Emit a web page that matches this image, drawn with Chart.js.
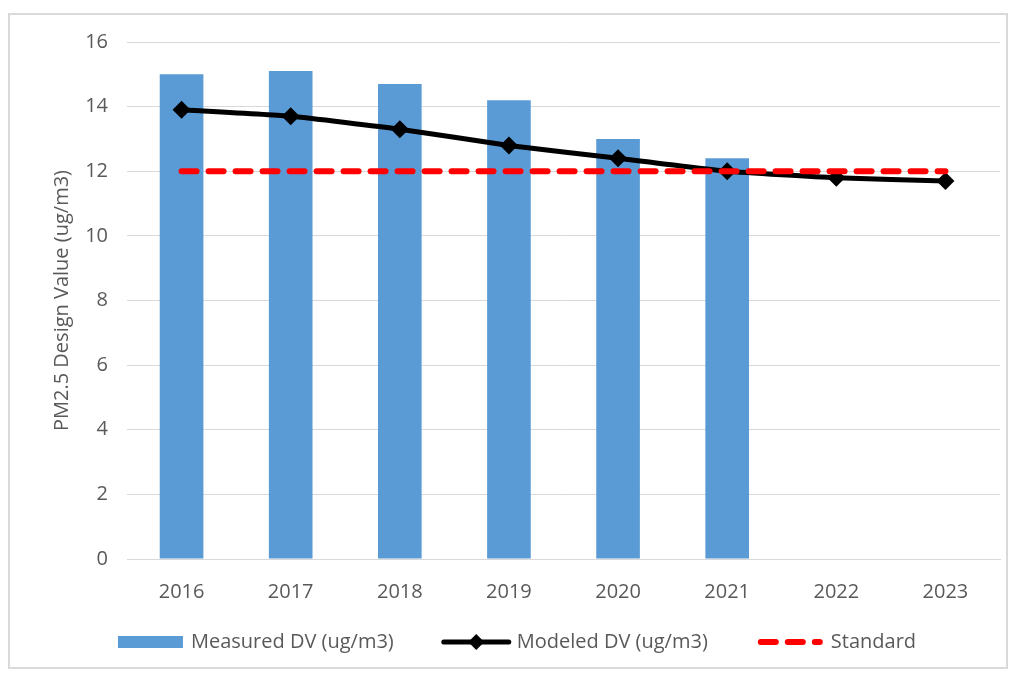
<!DOCTYPE html>
<html>
<head>
<meta charset="utf-8">
<script src="https://cdn.jsdelivr.net/npm/chart.js@4"></script>
<style>
  html, body { margin: 0; padding: 0; background: #fff; }
  #wrap { width: 1018px; height: 675px; position: relative; }
</style>
</head>
<body>
<div id="wrap"><canvas id="c" width="1018" height="675"></canvas></div>
<script>
// ---- data
const YEARS    = ["2016", "2017", "2018", "2019", "2020", "2021", "2022", "2023"];
const MEASURED = [15.0, 15.1, 14.7, 14.2, 13.0, 12.4, null, null];
const MODELED  = [13.9, 13.7, 13.3, 12.8, 12.4, 12.0, 11.8, 11.7];
const STANDARD = [12, 12, 12, 12, 12, 12, 12, 12];
const Y_TICKS  = [0, 2, 4, 6, 8, 10, 12, 14, 16];
const Y_TITLE  = "PM2.5 Design Value (ug/m3)";

const FONT = "'Open Sans', 'Noto Sans', sans-serif";
const FS = 20;
const GREY = "#595959";
const BLUE = "#5b9bd5", RED = "#ff0000";

// frame, y title and legend drawn on the canvas (Excel-style layout)
const frameLegend = {
  id: "frameLegend",
  beforeDraw(chart) {
    const { ctx } = chart;
    ctx.save();
    ctx.fillStyle = "#fff";
    ctx.fillRect(0, 0, chart.width, chart.height);
    ctx.strokeStyle = "#d9d9d9"; ctx.lineWidth = 2;
    ctx.strokeRect(9, 14, 998, 654);
    ctx.restore();
  },
  afterDraw(chart) {
    const { ctx, chartArea } = chart;
    ctx.save();
    ctx.font = FS + "px " + FONT;
    // y axis title, centred on the plot area
    ctx.save();
    ctx.translate(62, (chartArea.top + chartArea.bottom) / 2); ctx.rotate(-Math.PI / 2);
    ctx.fillStyle = GREY; ctx.textAlign = "center"; ctx.textBaseline = "middle";
    ctx.fillText(Y_TITLE, 0, 0);
    ctx.restore();

    const items = [
      { label: "Measured DV (ug/m3)", kind: "bar" },
      { label: "Modeled DV (ug/m3)", kind: "marker" },
      { label: "Standard", kind: "dash" },
    ];
    const sw = 65, gapT = 8, gapI = 50, y = 642;
    const widths = items.map(it => sw + gapT + ctx.measureText(it.label).width);
    const total = widths.reduce((a, b) => a + b, 0) + gapI * (items.length - 1);
    let x = 517 - total / 2;
    items.forEach((it, i) => {
      if (it.kind === "bar") {
        ctx.fillStyle = BLUE; ctx.fillRect(x, y - 6, sw, 12);
      } else if (it.kind === "marker") {
        ctx.strokeStyle = "#000"; ctx.lineWidth = 5; ctx.lineCap = "round";
        ctx.beginPath(); ctx.moveTo(x, y); ctx.lineTo(x + sw, y); ctx.stroke();
        ctx.fillStyle = "#000"; ctx.beginPath();
        const cx = x + sw / 2, r = 8;
        ctx.moveTo(cx, y - r); ctx.lineTo(cx + r, y); ctx.lineTo(cx, y + r); ctx.lineTo(cx - r, y);
        ctx.closePath(); ctx.fill();
      } else {
        ctx.strokeStyle = RED; ctx.lineWidth = 6; ctx.lineCap = "round";
        ctx.setLineDash([15, 12]);
        ctx.beginPath(); ctx.moveTo(x + 3, y); ctx.lineTo(x + sw - 3, y); ctx.stroke();
        ctx.setLineDash([]);
      }
      ctx.fillStyle = GREY; ctx.textBaseline = "middle"; ctx.textAlign = "left";
      ctx.fillText(it.label, x + sw + gapT, y);
      x += widths[i] + gapI;
    });
    ctx.restore();
  },
};

new Chart(document.getElementById("c"), {
  data: {
    labels: YEARS,
    datasets: [
      { type: "line", label: "Standard", data: STANDARD, order: 1,
        borderColor: RED, borderWidth: 6, borderDash: [15, 12], borderCapStyle: "round",
        pointRadius: 0, fill: false, tension: 0 },
      { type: "line", label: "Modeled DV (ug/m3)", data: MODELED, order: 2,
        borderColor: "#000", backgroundColor: "#000", borderWidth: 5,
        pointStyle: "rectRot", pointRadius: 9, pointBorderWidth: 0, fill: false, tension: 0.15 },
      { type: "bar", label: "Measured DV (ug/m3)", data: MEASURED, order: 3,
        backgroundColor: BLUE, categoryPercentage: 1, barPercentage: 0.4 },
    ],
  },
  options: {
    responsive: false, animation: false,
    layout: { padding: { left: 0, top: 42, right: 18, bottom: 0 } },
    plugins: { legend: { display: false }, tooltip: { enabled: false } },
    scales: {
      x: {
        grid: { display: false, drawTicks: false },
        border: { display: true, color: "#d9d9d9", width: 1 },
        ticks: { color: GREY, font: { family: FONT, size: FS }, padding: 21 },
        afterFit(s) { s.height = 116; },
      },
      y: {
        min: 0, max: 16,
        afterBuildTicks(s) { s.ticks = Y_TICKS.map(v => ({ value: v })); },
        grid: { color: "#d9d9d9", lineWidth: 1, drawTicks: false },
        border: { display: false },
        ticks: { color: GREY, font: { family: FONT, size: FS }, padding: 19 },
        afterFit(s) { s.width = 127; },
      },
    },
  },
  plugins: [frameLegend],
});
</script>
</body>
</html>
